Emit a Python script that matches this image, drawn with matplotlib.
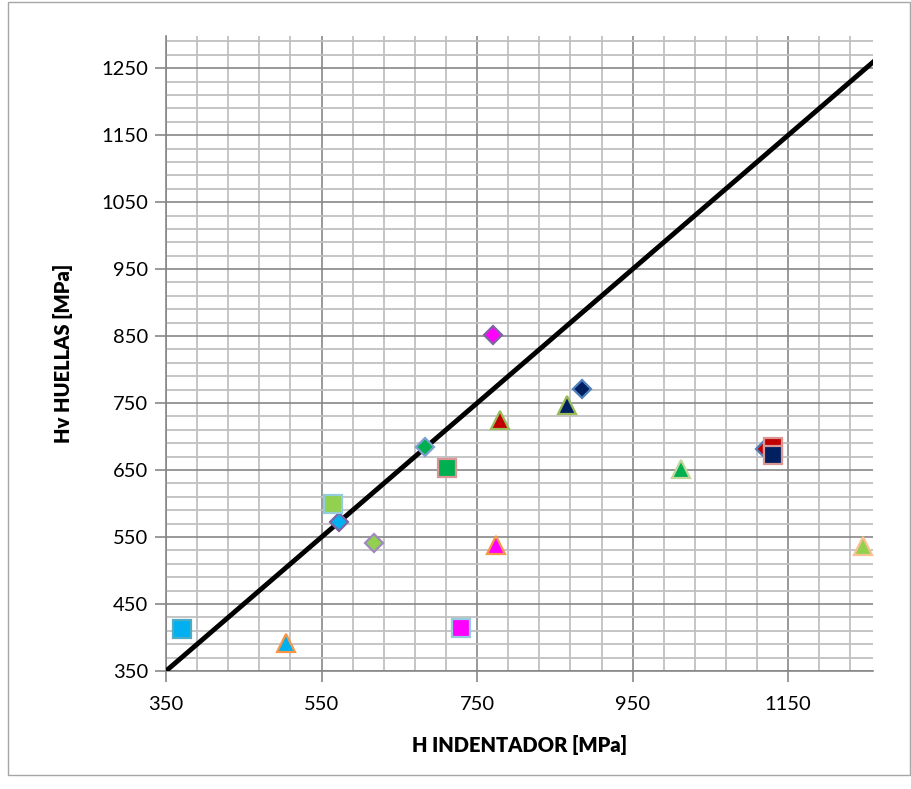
import matplotlib
matplotlib.use("Agg")
import matplotlib.pyplot as plt
from matplotlib.patches import Rectangle
from matplotlib.ticker import FixedLocator

# measured points, grouped by marker shape
square_x = [371, 565, 711, 729, 1131, 1131]
square_y = [412, 599, 653, 414, 684, 673]
diamond_x = [572, 617, 683, 770, 885, 1120]
diamond_y = [572, 541, 685, 852, 771, 682]
triangle_x = [504, 780, 865, 1012, 774, 1246]
triangle_y = [392, 725, 747, 651, 538, 537]

# y = x reference line
ref_x = [350, 1270]
ref_y = [350, 1270]

x_ticks = [350, 550, 750, 950, 1150]
y_ticks = [350, 450, 550, 650, 750, 850, 950, 1050, 1150, 1250]

# colours for each marker (fill, edge)
square_fill = ['#00B0F0', '#92D050', '#00B050', '#FF00FF', '#C00000', '#002060']
square_edge = ['#4BACC6', '#93CDDD', '#D99694', '#93CDDD', '#D99694', '#D99694']
diamond_fill = ['#00B0F0', '#92D050', '#00B050', '#FF00FF', '#002060', '#C00000']
diamond_edge = ['#8064A2', '#A18BBE', '#7F9FCF', '#8064A2', '#4F81BD', '#4F81BD']
triangle_fill = ['#00B0F0', '#C00000', '#002060', '#00B050', '#FF00FF', '#92D050']
triangle_edge = ['#F79646', '#9BBB59', '#9BBB59', '#C3D69B', '#F79646', '#FAC090']

plt.rcParams['font.family'] = ['Lato', 'DejaVu Sans']

fig = plt.figure(figsize=(9.12, 7.89), dpi=100)
ax = fig.add_axes([166 / 912, 118 / 789, 707 / 912, 635 / 789])

ax.set_xlim(350, 1259)
ax.set_ylim(350, 1298)

ax.xaxis.set_major_locator(FixedLocator(x_ticks))
ax.xaxis.set_minor_locator(FixedLocator(list(range(350, 1260, 40))))
ax.yaxis.set_major_locator(FixedLocator(y_ticks))
ax.yaxis.set_minor_locator(FixedLocator(list(range(350, 1300, 20))))

ax.grid(which='minor', color='#C0C0C0', linewidth=1.3, zorder=0)
ax.grid(which='major', color='#878787', linewidth=1.2, zorder=0)
ax.set_axisbelow(True)

for s in ['top', 'right']:
    ax.spines[s].set_visible(False)
for s in ['left', 'bottom']:
    ax.spines[s].set_color('#878787')
    ax.spines[s].set_linewidth(1.2)

ax.tick_params(which='major', direction='out', length=8, width=1.2,
               color='#878787', labelsize=14.5)
ax.tick_params(axis='y', pad=5)
ax.tick_params(axis='x', pad=10)
ax.tick_params(which='minor', length=0)

ax.plot(ref_x, ref_y, color='black', linewidth=3.5, zorder=3, clip_on=True)

for x, y, fc, ec in zip(diamond_x, diamond_y, diamond_fill, diamond_edge):
    ax.plot(x, y, marker='D', markersize=9.5, markerfacecolor=fc,
            markeredgecolor=ec, markeredgewidth=1.6, zorder=4, clip_on=False)
for x, y, fc, ec in zip(square_x, square_y, square_fill, square_edge):
    ax.plot(x, y, marker='s', markersize=12.5, markerfacecolor=fc,
            markeredgecolor=ec, markeredgewidth=1.6, zorder=5, clip_on=False)
for x, y, fc, ec in zip(triangle_x, triangle_y, triangle_fill, triangle_edge):
    ax.plot(x, y, marker='^', markersize=13, markerfacecolor=fc,
            markeredgecolor=ec, markeredgewidth=1.6, zorder=5, clip_on=False)

ax.set_xlabel('H INDENTADOR [MPa]', fontsize=14.5, fontweight='heavy', labelpad=16)
ax.set_ylabel('Hv HUELLAS [MPa]', fontsize=14.5, fontweight='heavy', labelpad=20)

fig.patches.append(Rectangle((8 / 912, 14 / 789), 902 / 912, 773 / 789,
                             transform=fig.transFigure, fill=False,
                             edgecolor='#A6A6A6', linewidth=1.0))

fig.savefig('out.png', dpi=100)
